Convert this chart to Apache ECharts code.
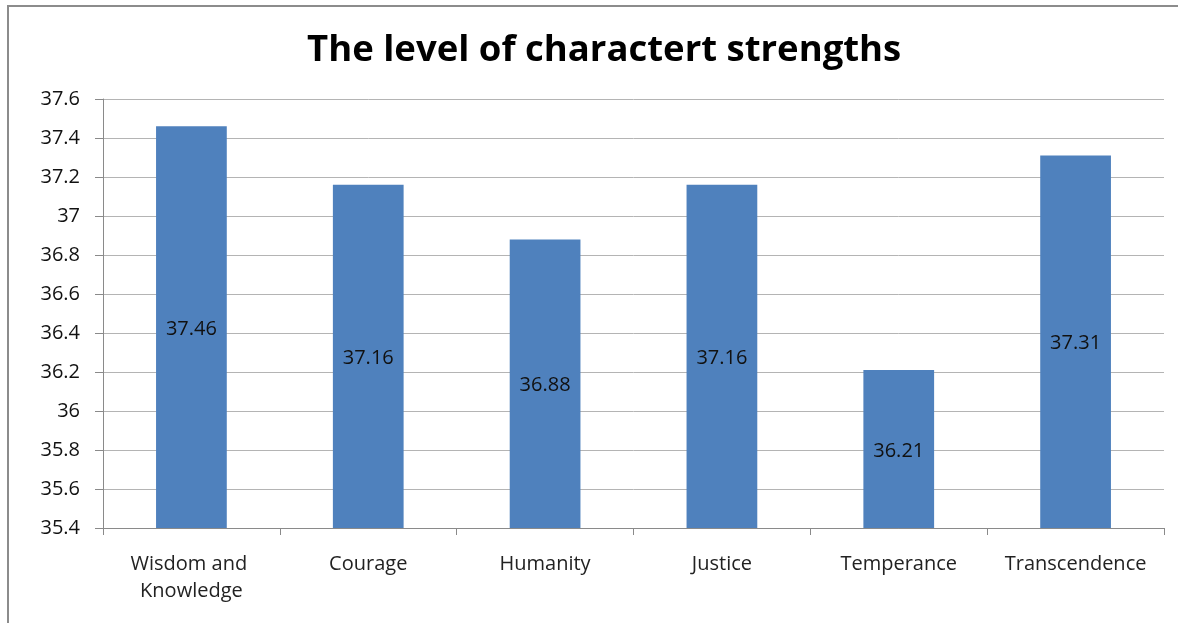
<!DOCTYPE html>
<html>
<head>
<meta charset="utf-8">
<script src="https://cdn.jsdelivr.net/npm/echarts@6/dist/echarts.min.js"></script>
<style>
  html, body { margin: 0; padding: 0; background: #fff; }
  #chart { width: 1178px; height: 623px; }
</style>
</head>
<body>
<div id="chart"></div>
<script>
// data
const categories = ['Wisdom and Knowledge', 'Courage', 'Humanity', 'Justice', 'Temperance', 'Transcendence'];
const values = [37.46, 37.16, 36.88, 37.16, 36.21, 37.31];
const yMin = 35.4;
const yMax = 37.6;
const yStep = 0.2;

const chart = echarts.init(document.getElementById('chart'));
const font = '"Open Sans", "Noto Sans", sans-serif';

const option = {
  backgroundColor: '#fff',
  animation: false,
  title: {
    text: 'The level of charactert strengths',
    left: 302,
    top: 27,
    textStyle: { fontFamily: font, fontSize: 36.5, fontWeight: 'bold', color: '#000' }
  },
  graphic: [{
    type: 'rect',
    shape: { x: 8, y: 6, width: 1200, height: 650 },
    style: { fill: 'none', stroke: '#8c8c8c', lineWidth: 2 },
    silent: true
  }],
  grid: { left: 103, right: 14, top: 99, bottom: 95 },
  xAxis: {
    type: 'category',
    data: categories,
    axisLine: { lineStyle: { color: '#8a8a8a', width: 1 } },
    axisTick: { show: true, length: 7, lineStyle: { color: '#8a8a8a' } },
    axisLabel: {
      fontFamily: font, fontSize: 20, color: '#222', margin: 23,
      width: 170, overflow: 'break', lineHeight: 27, interval: 0
    }
  },
  yAxis: {
    type: 'value',
    min: yMin,
    max: yMax,
    interval: yStep,
    axisLine: { show: true, lineStyle: { color: '#8a8a8a', width: 1 } },
    axisTick: { show: true, length: 8, lineStyle: { color: '#8a8a8a' } },
    splitLine: { lineStyle: { color: '#b4b4b4', width: 1 } },
    axisLabel: {
      fontFamily: font, fontSize: 20, color: '#111', margin: 23,
      formatter: v => String(parseFloat(v.toFixed(1)))
    }
  },
  series: [{
    type: 'bar',
    data: values,
    barWidth: '40%',
    itemStyle: { color: '#4f81bd' },
    label: {
      show: true,
      position: 'inside',
      offset: [0, 2],
      fontFamily: font,
      fontSize: 20,
      color: '#111',
      formatter: p => p.value.toFixed(2)
    }
  }]
};

chart.setOption(option);
window.addEventListener('resize', function () {
  chart.resize();
});
</script>
</body>
</html>
